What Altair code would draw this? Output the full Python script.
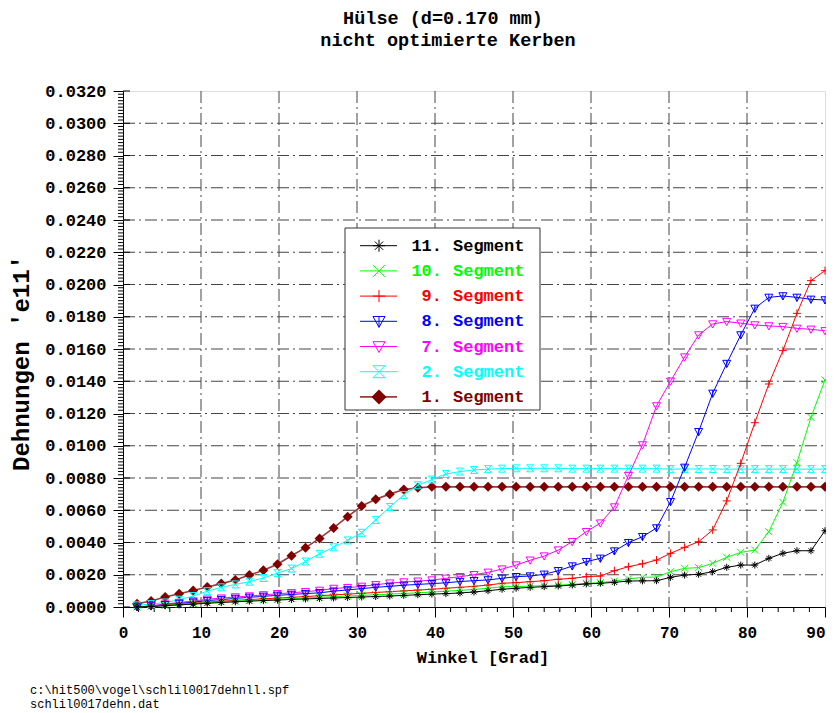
import altair as alt
import pandas as pd
import numpy as np

# ---------------- data ----------------
winkel = [1.8, 3.6, 5.4, 7.2, 9.0, 10.8, 12.6, 14.4, 16.2, 18.0,
          19.8, 21.6, 23.4, 25.2, 27.0, 28.8, 30.6, 32.4, 34.2, 36.0,
          37.8, 39.6, 41.4, 43.2, 45.0, 46.8, 48.6, 50.4, 52.2, 54.0,
          55.8, 57.6, 59.4, 61.2, 63.0, 64.8, 66.6, 68.4, 70.2, 72.0,
          73.8, 75.6, 77.4, 79.2, 81.0, 82.8, 84.6, 86.4, 88.2, 90.0]

seg1 = [0.00020, 0.00037, 0.00062, 0.00082, 0.00102, 0.00124, 0.00145, 0.00167, 0.00198, 0.00228,
        0.00265, 0.00318, 0.00368, 0.00425, 0.00490, 0.00560, 0.00626, 0.00668, 0.00700, 0.00728,
        0.00740, 0.00745, 0.00745, 0.00745, 0.00745, 0.00745, 0.00745, 0.00745, 0.00745, 0.00745,
        0.00745, 0.00745, 0.00745, 0.00745, 0.00745, 0.00745, 0.00745, 0.00745, 0.00745, 0.00745,
        0.00745, 0.00745, 0.00745, 0.00745, 0.00745, 0.00745, 0.00745, 0.00745, 0.00745, 0.00745]

seg2 = [0.00010, 0.00018, 0.00028, 0.00045, 0.00068, 0.00098, 0.00122, 0.00140, 0.00157, 0.00180,
        0.00210, 0.00238, 0.00282, 0.00330, 0.00370, 0.00413, 0.00460, 0.00540, 0.00620, 0.00695,
        0.00755, 0.00790, 0.00825, 0.00840, 0.00850, 0.00855, 0.00858, 0.00860, 0.00860, 0.00860,
        0.00860, 0.00858, 0.00858, 0.00858, 0.00858, 0.00858, 0.00858, 0.00858, 0.00855, 0.00856,
        0.00856, 0.00856, 0.00855, 0.00855, 0.00855, 0.00855, 0.00855, 0.00855, 0.00855, 0.00855]

seg7 = [0.00000, 0.00008, 0.00018, 0.00028, 0.00037, 0.00048, 0.00055, 0.00062, 0.00068, 0.00075,
        0.00082, 0.00088, 0.00095, 0.00103, 0.00115, 0.00120, 0.00128, 0.00138, 0.00148, 0.00155,
        0.00160, 0.00167, 0.00178, 0.00188, 0.00200, 0.00215, 0.00235, 0.00260, 0.00290, 0.00316,
        0.00353, 0.00405, 0.00467, 0.00520, 0.00620, 0.00815, 0.01005, 0.01247, 0.01400, 0.01550,
        0.01687, 0.01755, 0.01770, 0.01760, 0.01749, 0.01743, 0.01739, 0.01728, 0.01722, 0.01713]

seg8 = [0.00000, 0.00006, 0.00014, 0.00022, 0.00030, 0.00040, 0.00046, 0.00053, 0.00060, 0.00066,
        0.00072, 0.00078, 0.00083, 0.00088, 0.00098, 0.00106, 0.00114, 0.00122, 0.00128, 0.00135,
        0.00140, 0.00145, 0.00150, 0.00158, 0.00163, 0.00168, 0.00178, 0.00188, 0.00192, 0.00203,
        0.00225, 0.00254, 0.00281, 0.00302, 0.00347, 0.00399, 0.00436, 0.00490, 0.00653, 0.00866,
        0.01087, 0.01325, 0.01510, 0.01687, 0.01852, 0.01920, 0.01929, 0.01920, 0.01908, 0.01904]

seg9 = [0.00000, 0.00005, 0.00012, 0.00018, 0.00025, 0.00030, 0.00036, 0.00041, 0.00046, 0.00051,
        0.00055, 0.00060, 0.00065, 0.00070, 0.00075, 0.00080, 0.00085, 0.00090, 0.00095, 0.00100,
        0.00105, 0.00110, 0.00116, 0.00122, 0.00128, 0.00136, 0.00147, 0.00151, 0.00157, 0.00163,
        0.00172, 0.00178, 0.00188, 0.00192, 0.00225, 0.00250, 0.00268, 0.00291, 0.00333, 0.00370,
        0.00405, 0.00478, 0.00658, 0.00891, 0.01143, 0.01383, 0.01590, 0.01821, 0.02024, 0.02086]

seg10 = [0.00000, 0.00004, 0.00010, 0.00016, 0.00022, 0.00027, 0.00032, 0.00037, 0.00041, 0.00045,
         0.00048, 0.00052, 0.00056, 0.00060, 0.00064, 0.00068, 0.00072, 0.00076, 0.00080, 0.00084,
         0.00088, 0.00093, 0.00098, 0.00103, 0.00109, 0.00116, 0.00126, 0.00126, 0.00130, 0.00132,
         0.00136, 0.00140, 0.00147, 0.00151, 0.00161, 0.00174, 0.00184, 0.00186, 0.00219, 0.00240,
         0.00244, 0.00271, 0.00308, 0.00339, 0.00353, 0.00467, 0.00649, 0.00895, 0.01176, 0.01408]

seg11 = [0.00000, 0.00003, 0.00008, 0.00013, 0.00018, 0.00023, 0.00028, 0.00032, 0.00036, 0.00040,
         0.00043, 0.00047, 0.00050, 0.00053, 0.00056, 0.00059, 0.00062, 0.00065, 0.00068, 0.00072,
         0.00076, 0.00080, 0.00083, 0.00087, 0.00093, 0.00101, 0.00110, 0.00116, 0.00122, 0.00126,
         0.00130, 0.00136, 0.00143, 0.00147, 0.00153, 0.00161, 0.00162, 0.00163, 0.00184, 0.00198,
         0.00203, 0.00219, 0.00246, 0.00260, 0.00260, 0.00302, 0.00333, 0.00349, 0.00349, 0.00473]

legend_numbers = ["11.", "10.", "9.", "8.", "7.", "2.", "1."]
legend_word = "Segment"
title_lines = ["Hülse (d=0.170 mm)", "nicht optimierte Kerben"]
x_title = "Winkel [Grad]"
y_title = "Dehnungen 'e11'"
footer_lines = [r"c:\hit500\vogel\schlil0017dehnll.spf", "schlil0017dehn.dat"]
x_ticks = [0, 10, 20, 30, 40, 50, 60, 70, 80, 90]
y_ticks = [0.0000, 0.0020, 0.0040, 0.0060, 0.0080, 0.0100, 0.0120, 0.0140, 0.0160,
           0.0180, 0.0200, 0.0220, 0.0240, 0.0260, 0.0280, 0.0300, 0.0320]

# ---------------- styles ----------------
W, H = 702, 516
FONT = "Liberation Mono"
ASTER = "M-1,0L1,0M0,-1L0,1M-0.7,-0.7L0.7,0.7M-0.7,0.7L0.7,-0.7"
XSH = "M-1,-1L1,1M-1,1L1,-1"
PLUS = "M-1,0L1,0M0,-1L0,1"
TRIBAR = "M-1,-0.8L1,-0.8L0,1Z M0,-0.8L0,1"
TRI = "M-1,-0.8L1,-0.8L0,1Z"
HOUR = "M-1,-1L1,-1L-1,1L1,1Z"

# series in legend order: values, color, line color, shape, filled, size, legend size
series = [
    (seg11, "#000000", "#000000", ASTER, False, 49, 144),
    (seg10, "#00ff00", "#00ff00", XSH, False, 49, 144),
    (seg9, "#ff0000", "#ff0000", PLUS, False, 64, 144),
    (seg8, "#0000ff", "#0000ff", TRIBAR, False, 64, 144),
    (seg7, "#ff00ff", "#ff00ff", TRI, False, 64, 144),
    (seg2, "#00ffff", "#00ffff", HOUR, False, 49, 144),
    (seg1, "#800000", "#9a3a3a", "diamond", True, 100, 225),
]

xscale = alt.Scale(domain=[0, 90], nice=False, zero=False)
yscale = alt.Scale(domain=[0, 0.032], nice=False, zero=False)
xaxis = alt.Axis(values=x_ticks, title=None, grid=False, tickSize=10, tickColor="#000",
                 domainColor="#000", labelFont=FONT, labelFontSize=16, labelFontWeight="bold",
                 labelColor="#000", labelPadding=7, labelFlush=False, format="d",
                 labelAlign={"condition": {"test": "datum.value == 90", "value": "right"},
                             "value": "center"})
yaxis = alt.Axis(values=y_ticks, title=None, grid=False, tickSize=10, tickColor="#000",
                 domainColor="#000", labelFont=FONT, labelFontSize=17, labelFontWeight="bold",
                 labelColor="#000", labelPadding=7, format=".4f")

X = lambda: alt.X("x:Q", scale=xscale, axis=xaxis)
Y = lambda: alt.Y("y:Q", scale=yscale, axis=yaxis)

layers = []

# grid
vgrid = pd.DataFrame({"x": x_ticks[1:-1]})
hgrid = pd.DataFrame({"y": y_ticks[1:-1]})
layers.append(alt.Chart(vgrid).mark_rule(color="#444", strokeWidth=1, strokeDash=[12, 4, 2, 4])
              .encode(x=X(), y=alt.value(0), y2=alt.value(H)))
layers.append(alt.Chart(hgrid).mark_rule(color="#444", strokeWidth=1, strokeDash=[12, 4, 2, 4])
              .encode(y=Y(), x=alt.value(0), x2=alt.value(W)))

# minor ticks
ymin = [v for v in np.round(np.arange(0, 0.03201, 0.0002), 5) if round(v / 0.002, 6) % 1 != 0]
xmin = [v for v in range(0, 91, 2) if v % 10 != 0]
layers.append(alt.Chart(pd.DataFrame({"y": ymin})).mark_rule(color="#000", strokeWidth=1)
              .encode(y=Y(), x=alt.value(-5), x2=alt.value(0)))
layers.append(alt.Chart(pd.DataFrame({"y": y_ticks})).mark_rule(color="#000", strokeWidth=1)
              .encode(y=Y(), x=alt.value(0), x2=alt.value(7)))
layers.append(alt.Chart(pd.DataFrame({"x": xmin})).mark_rule(color="#000", strokeWidth=1)
              .encode(x=X(), y=alt.value(H), y2=alt.value(H + 5)))

# series (draw 1 first, 11 last)
for vals, col, lcol, shp, filled, sz, lsz in reversed(series):
    df = pd.DataFrame({"x": winkel, "y": vals})
    lw = 1.6 if filled else 1
    layers.append(alt.Chart(df).mark_line(color=lcol, strokeWidth=lw).encode(x=X(), y=Y()))
    if filled:
        pm = alt.Chart(df).mark_point(shape=shp, color=col, filled=True, size=sz, opacity=1)
    else:
        pm = alt.Chart(df).mark_point(shape=shp, color=col, filled=False, size=sz,
                                      strokeWidth=1, opacity=1)
    layers.append(pm.encode(x=X(), y=Y()))

# legend box
one = pd.DataFrame({"k": [0]})
LX0, LX1, LY0, LY1 = 222, 417, 137, 319
layers.append(alt.Chart(one).mark_rect(fill="white", stroke="#333", strokeWidth=1)
              .encode(x=alt.value(LX0), x2=alt.value(LX1), y=alt.value(LY0), y2=alt.value(LY1)))
ROW0, ROWSTEP = 154.7, 25.2
for i, (vals, col, lcol, shp, filled, sz, lsz) in enumerate(series):
    ry = ROW0 + ROWSTEP * i
    layers.append(alt.Chart(one).mark_rule(color=lcol, strokeWidth=1.6 if filled else 1)
                  .encode(x=alt.value(237), x2=alt.value(274), y=alt.value(ry)))
    if filled:
        lp = alt.Chart(one).mark_point(shape=shp, color=col, filled=True, size=lsz, opacity=1)
    else:
        lp = alt.Chart(one).mark_point(shape=shp, color=col, filled=False, size=lsz,
                                       strokeWidth=1, opacity=1)
    layers.append(lp.encode(x=alt.value(256), y=alt.value(ry)))
    tdf = pd.DataFrame({"n": [legend_numbers[i]], "s": [legend_word]})
    layers.append(alt.Chart(tdf).mark_text(font=FONT, fontSize=17, fontWeight="bold", color=col,
                                           align="right", baseline="middle")
                  .encode(text="n:N", x=alt.value(319), y=alt.value(ry)))
    layers.append(alt.Chart(tdf).mark_text(font=FONT, fontSize=17, fontWeight="bold", color=col,
                                           align="left", baseline="middle")
                  .encode(text="s:N", x=alt.value(330), y=alt.value(ry)))

# titles
def txt(s, x, y, size, weight="bold", align="center", angle=0, baseline="alphabetic"):
    kw = dict(font=FONT, fontSize=size, fontWeight=weight, color="#000", align=align,
              baseline=baseline)
    if angle:
        kw["angle"] = angle
    return (alt.Chart(pd.DataFrame({"t": [s]})).mark_text(**kw)
            .encode(text="t:N", x=alt.value(x), y=alt.value(y)))

layers.append(txt(title_lines[0], 320, -67, 18.5))
layers.append(txt(title_lines[1], 325, -45, 18.5))
layers.append(txt(x_title, 360, 572, 17))
layers.append(txt(y_title, -94, 272, 24, angle=270))
layers.append(txt(footer_lines[0], -93, 603, 12, weight="normal", align="left"))
layers.append(txt(footer_lines[1], -93, 617, 12, weight="normal", align="left"))

chart = (alt.layer(*layers)
         .properties(width=W, height=H,
                     padding={"left": 115, "top": 83, "right": 1, "bottom": 106},
                     autosize=alt.AutoSizeParams(type="none"))
         .configure_view(stroke="#333", strokeWidth=1)
         .configure(background="white"))

chart.save("out.html", embed_options={"renderer": "svg", "actions": False})
